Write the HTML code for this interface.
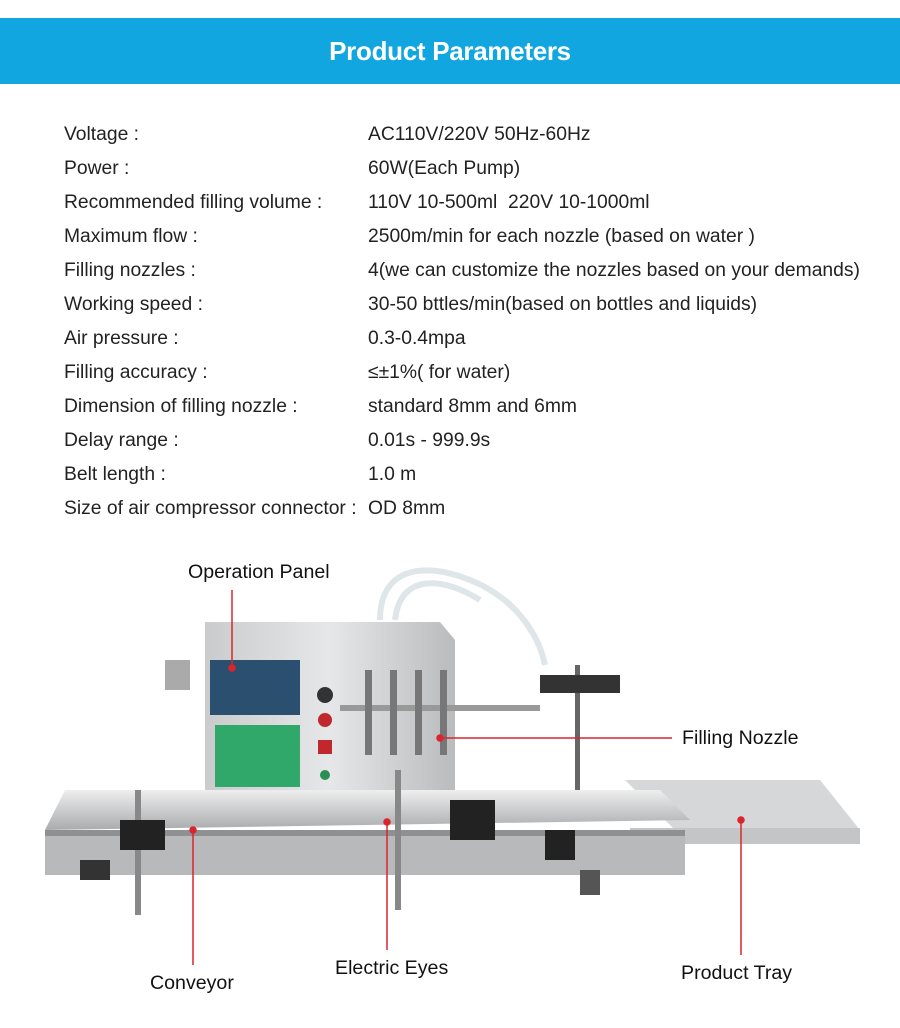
<!DOCTYPE html>
<html><head><meta charset="utf-8"><style>
html,body{margin:0;padding:0;background:#fff;}
body{width:900px;height:1028px;position:relative;overflow:hidden;font-family:"Liberation Sans","Noto Sans CJK SC",sans-serif;color:#222;}
.hdr{position:absolute;left:0;top:18px;width:900px;height:66px;background:#12a6e1;color:#fff;font-weight:bold;font-size:26px;text-align:center;line-height:66px;letter-spacing:-0.3px}
.row{position:absolute;left:0;width:900px;font-size:19.3px;height:24px;line-height:24px}
.row .k{position:absolute;left:64px}
.row .v{position:absolute;left:368px;white-space:nowrap}
.lbl{position:absolute;font-size:19.6px;color:#111;white-space:nowrap}
svg{position:absolute;left:0;top:0}
</style></head><body>
<div class="hdr">Product Parameters</div>
<div class="row" style="top:123px"><span class="k">Voltage :</span><span class="v">AC110V/220V 50Hz-60Hz</span></div>
<div class="row" style="top:157px"><span class="k">Power :</span><span class="v">60W(Each Pump)</span></div>
<div class="row" style="top:191px"><span class="k">Recommended filling volume :</span><span class="v">110V 10-500ml&nbsp; 220V 10-1000ml</span></div>
<div class="row" style="top:225px"><span class="k">Maximum flow :</span><span class="v">2500m/min for each nozzle (based on water )</span></div>
<div class="row" style="top:259px"><span class="k">Filling nozzles :</span><span class="v">4(we can customize the nozzles based on your demands)</span></div>
<div class="row" style="top:293px"><span class="k">Working speed :</span><span class="v">30-50 bttles/min(based on bottles and liquids)</span></div>
<div class="row" style="top:327px"><span class="k">Air pressure :</span><span class="v">0.3-0.4mpa</span></div>
<div class="row" style="top:361px"><span class="k">Filling accuracy :</span><span class="v">≤±1%( for water)</span></div>
<div class="row" style="top:395px"><span class="k">Dimension of filling nozzle :</span><span class="v">standard 8mm and 6mm</span></div>
<div class="row" style="top:429px"><span class="k">Delay range :</span><span class="v">0.01s - 999.9s</span></div>
<div class="row" style="top:463px"><span class="k">Belt length :</span><span class="v">1.0 m</span></div>
<div class="row" style="top:497px"><span class="k">Size of air compressor connector :</span><span class="v">OD 8mm</span></div>

<svg width="900" height="1028">
<defs>
<linearGradient id="st" x1="0" x2="1"><stop offset="0" stop-color="#c9cbcd"/><stop offset="0.5" stop-color="#e6e7e8"/><stop offset="1" stop-color="#b9bbbd"/></linearGradient>
<linearGradient id="cv" x1="0" y1="0" x2="0" y2="1"><stop offset="0" stop-color="#eeeeee"/><stop offset="1" stop-color="#a9abad"/></linearGradient>
</defs>
<path d="M380 620 C380 570 420 560 470 580 C520 600 540 640 545 665" stroke="#dfe6ea" stroke-width="6" fill="none"/>
<path d="M395 620 C400 575 440 575 480 600" stroke="#dfe6ea" stroke-width="6" fill="none"/>
<polygon points="205,622 440,622 455,640 455,790 205,790" fill="url(#st)"/>
<rect x="210" y="660" width="90" height="55" fill="#2b4f6e"/>
<rect x="215" y="725" width="85" height="62" fill="#2fa86a"/>
<circle cx="325" cy="695" r="8" fill="#333"/><circle cx="325" cy="720" r="7" fill="#c0282d"/><rect x="318" y="740" width="14" height="14" fill="#c0282d"/><circle cx="325" cy="775" r="5" fill="#2a8f55"/>
<rect x="165" y="660" width="25" height="30" fill="#aaa"/>
<rect x="340" y="705" width="200" height="6" fill="#999"/>
<rect x="365" y="670" width="7" height="85" fill="#777"/><rect x="390" y="670" width="7" height="85" fill="#777"/><rect x="415" y="670" width="7" height="85" fill="#777"/><rect x="440" y="670" width="7" height="85" fill="#777"/>
<rect x="575" y="665" width="5" height="140" fill="#666"/><rect x="540" y="675" width="80" height="18" fill="#333"/>
<polygon points="625,780 820,780 860,830 680,835" fill="#d6d7d8"/>
<rect x="630" y="828" width="230" height="16" fill="#c3c5c6"/>
<polygon points="65,790 660,790 690,820 45,830" fill="url(#cv)"/>
<rect x="45" y="830" width="640" height="45" fill="#b7b9bb"/>
<rect x="45" y="830" width="640" height="6" fill="#8e9092"/>
<rect x="80" y="860" width="30" height="20" fill="#333"/>
<rect x="135" y="790" width="6" height="125" fill="#888"/><rect x="395" y="770" width="6" height="140" fill="#888"/>
<rect x="120" y="820" width="45" height="30" fill="#222"/><rect x="450" y="800" width="45" height="40" fill="#222"/><rect x="545" y="830" width="30" height="30" fill="#222"/>
<rect x="580" y="870" width="20" height="25" fill="#555"/>
<g stroke="#d9262c" stroke-width="1.5" fill="#d9262c">
<line x1="232" y1="590" x2="232" y2="668"/><circle cx="232" cy="668" r="3"/>
<line x1="440" y1="738" x2="672" y2="738"/><circle cx="440" cy="738" r="3"/>
<line x1="193" y1="830" x2="193" y2="965"/><circle cx="193" cy="830" r="3"/>
<line x1="387" y1="822" x2="387" y2="950"/><circle cx="387" cy="822" r="3"/>
<line x1="741" y1="820" x2="741" y2="955"/><circle cx="741" cy="820" r="3"/>
</g>
</svg>
<div class="lbl" style="left:188px;top:561px">Operation Panel</div>
<div class="lbl" style="left:682px;top:727px">Filling Nozzle</div>
<div class="lbl" style="left:150px;top:972px">Conveyor</div>
<div class="lbl" style="left:335px;top:957px">Electric Eyes</div>
<div class="lbl" style="left:681px;top:962px">Product Tray</div>
</body></html>
